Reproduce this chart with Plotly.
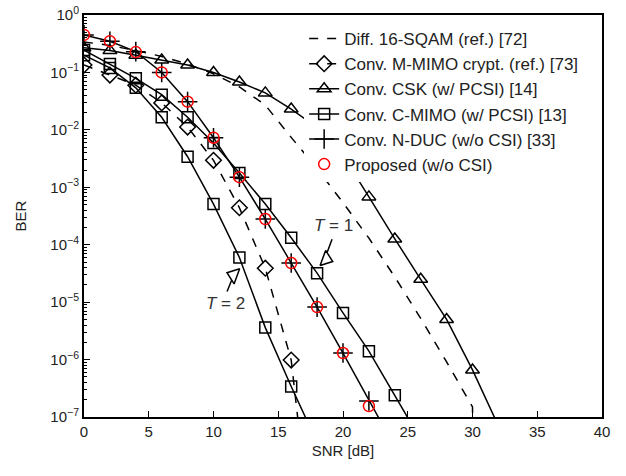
import plotly.graph_objects as go

# ---- data ----
sqam_x = [0, 2, 4, 6, 8, 10, 12, 14, 16, 18, 20, 22, 24, 26, 28, 30, 30.1]
sqam_y = [0.34, 0.295, 0.24, 0.19, 0.14, 0.095, 0.056, 0.027, 7.4e-3, 2.1e-3,
          5.4e-4, 1.3e-4, 2.75e-5, 5.2e-6, 9.1e-7, 1.5e-7, 1e-9]

mmimo_x = [0, 2, 4, 6, 8, 10, 12, 14, 16, 18]
mmimo_y = [0.135, 0.09, 0.06, 0.0295, 0.0112, 2.95e-3, 4.4e-4, 3.9e-5, 9.8e-7, 1e-10]

csk_x = [0, 2, 4, 6, 8, 10, 12, 14, 16, 18, 20, 22, 24, 26, 28, 30, 32]
csk_y = [0.27, 0.24, 0.2, 0.165, 0.135, 0.10, 0.068, 0.044, 0.023, 0.011, 3.6e-3,
         6.8e-4, 1.26e-4, 2.5e-5, 5e-6, 6.6e-7, 7e-8]

cmimo1_x = [0, 2, 4, 6, 8, 10, 12, 14, 16, 18, 20, 22, 24, 26]
cmimo1_y = [0.245, 0.14, 0.079, 0.041, 0.0166, 5.9e-3, 1.78e-3, 5.1e-4, 1.32e-4,
            3.2e-5, 6.5e-6, 1.4e-6, 2.4e-7, 4e-8]

cmimo2_x = [0, 2, 4, 6, 8, 10, 12, 14, 16, 18]
cmimo2_y = [0.2, 0.12, 0.054, 0.0166, 3.4e-3, 5.1e-4, 6e-5, 3.6e-6, 3.4e-7, 3.6e-8]

nduc_x = [0, 2, 4, 6, 8, 10, 12, 14, 16, 18, 20, 22, 24]
nduc_y = [0.45, 0.35, 0.23, 0.10, 0.031, 7.3e-3, 1.5e-3, 2.8e-4, 4.8e-5, 8.2e-6,
          1.3e-6, 1.9e-7, 3e-8]

prop_x = [0, 2, 4, 6, 8, 10, 12, 14, 16, 18, 20, 22]
prop_y = [0.45, 0.35, 0.226, 0.10, 0.031, 7.3e-3, 1.5e-3, 2.8e-4, 4.8e-5, 8.2e-6,
          1.3e-6, 1.55e-7]

names = ["Diff. 16-SQAM (ref.) [72]", "Conv. M-MIMO crypt. (ref.) [73]",
         "Conv. CSK (w/ PCSI) [14]", "Conv. C-MIMO (w/ PCSI) [13]",
         "Conv. N-DUC (w/o CSI) [33]", "Proposed (w/o CSI)"]

x_ticks = [0, 5, 10, 15, 20, 25, 30, 35, 40]
y_ticks = [1, 1e-1, 1e-2, 1e-3, 1e-4, 1e-5, 1e-6, 1e-7]
y_ticktext = ["10<sup>0</sup>", "10<sup>−1</sup>", "10<sup>−2</sup>", "10<sup>−3</sup>",
              "10<sup>−4</sup>", "10<sup>−5</sup>", "10<sup>−6</sup>", "10<sup>−7</sup>"]

FONT = "Liberation Sans"
LW = 1.5

fig = go.Figure()

fig.add_trace(go.Scatter(x=sqam_x, y=sqam_y, mode="lines", name=names[0],
                         line=dict(color="black", width=LW, dash="dash")))
fig.add_trace(go.Scatter(x=mmimo_x, y=mmimo_y, mode="lines+markers", name=names[1],
                         line=dict(color="black", width=LW, dash="dash"),
                         marker=dict(symbol="diamond-open", size=12, color="black",
                                     line=dict(width=LW, color="black"))))
fig.add_trace(go.Scatter(x=csk_x, y=csk_y, mode="lines+markers", name=names[2],
                         line=dict(color="black", width=LW),
                         marker=dict(symbol="triangle-up-open", size=12, color="black",
                                     line=dict(width=LW, color="black"))))
fig.add_trace(go.Scatter(x=cmimo1_x, y=cmimo1_y, mode="lines+markers", name=names[3],
                         legendgroup="cm",
                         line=dict(color="black", width=LW),
                         marker=dict(symbol="square-open", size=11, color="black",
                                     line=dict(width=LW, color="black"))))
fig.add_trace(go.Scatter(x=cmimo2_x, y=cmimo2_y, mode="lines+markers", name=names[3],
                         legendgroup="cm", showlegend=False,
                         line=dict(color="black", width=LW),
                         marker=dict(symbol="square-open", size=11, color="black",
                                     line=dict(width=LW, color="black"))))
fig.add_trace(go.Scatter(x=nduc_x, y=nduc_y, mode="lines+markers", name=names[4],
                         line=dict(color="black", width=LW),
                         marker=dict(symbol="cross-thin", size=14, color="black",
                                     line=dict(width=LW, color="black"))))
fig.add_trace(go.Scatter(x=prop_x, y=prop_y, mode="markers", name=names[5],
                         marker=dict(symbol="circle-open", size=11, color="red",
                                     line=dict(width=LW, color="red"))))

# annotation arrowheads (open triangles)
fig.add_trace(go.Scatter(x=[18.7, 11.55], y=[5.6e-5, 2.95e-5], mode="markers",
                         showlegend=False, hoverinfo="skip",
                         marker=dict(symbol=["triangle-right", "triangle-left"], size=14,
                                     color="white", angle=[20, 20],
                                     line=dict(width=LW, color="black"))))

fig.add_annotation(x=18.78, y=-4.13, ax=19.2, ay=-3.88, xref="x", yref="y",
                   axref="x", ayref="y", text="", showarrow=True, arrowhead=0,
                   arrowwidth=LW, arrowcolor="black")
fig.add_annotation(x=19.3, y=-3.66, xref="x", yref="y", text="<i>T</i> = 1",
                   showarrow=False, font=dict(family=FONT, size=17, color="#333"))
fig.add_annotation(x=11.4, y=-4.62, ax=11.0, ay=-4.84, xref="x", yref="y",
                   axref="x", ayref="y", text="", showarrow=True, arrowhead=0,
                   arrowwidth=LW, arrowcolor="black")
fig.add_annotation(x=10.93, y=-5.02, xref="x", yref="y", text="<i>T</i> = 2",
                   showarrow=False, font=dict(family=FONT, size=17, color="#333"))

fig.update_layout(
    width=626, height=476,
    margin=dict(l=84, r=24, t=15, b=59, autoexpand=False),
    paper_bgcolor="white", plot_bgcolor="white",
    font=dict(family=FONT, size=15, color="#222"),
    showlegend=True,
    legend=dict(x=0.425, y=0.985, xanchor="left", yanchor="top",
                bgcolor="white", borderwidth=0,
                font=dict(family=FONT, size=17, color="#222"),
                tracegroupgap=0),
)
fig.update_xaxes(range=[0, 40], tickvals=x_ticks, ticks="inside", ticklen=6,
                 tickwidth=1.2, tickcolor="black", showline=True, linecolor="black",
                 linewidth=2, mirror=True, showgrid=False, zeroline=False,
                 automargin=False, ticklabeloverflow="allow",
                 title=dict(text="SNR [dB]", standoff=6, font=dict(size=15)),
                 tickfont=dict(size=15))
fig.update_yaxes(type="log", range=[-7, 0], tickvals=y_ticks, ticktext=y_ticktext,
                 ticks="inside", ticklen=6, tickwidth=1.2, tickcolor="black",
                 showline=True, linecolor="black", linewidth=2, mirror=True,
                 showgrid=False, zeroline=False, automargin=False,
                 ticklabeloverflow="allow",
                 minor=dict(ticks="inside", ticklen=3, tickcolor="black", dtick="D1",
                            showgrid=False),
                 title=dict(text="BER", standoff=20, font=dict(size=15)),
                 tickfont=dict(size=15))

fig.write_html("out.html", config={"displayModeBar": False},
               post_script="document.body.style.margin='0';")
